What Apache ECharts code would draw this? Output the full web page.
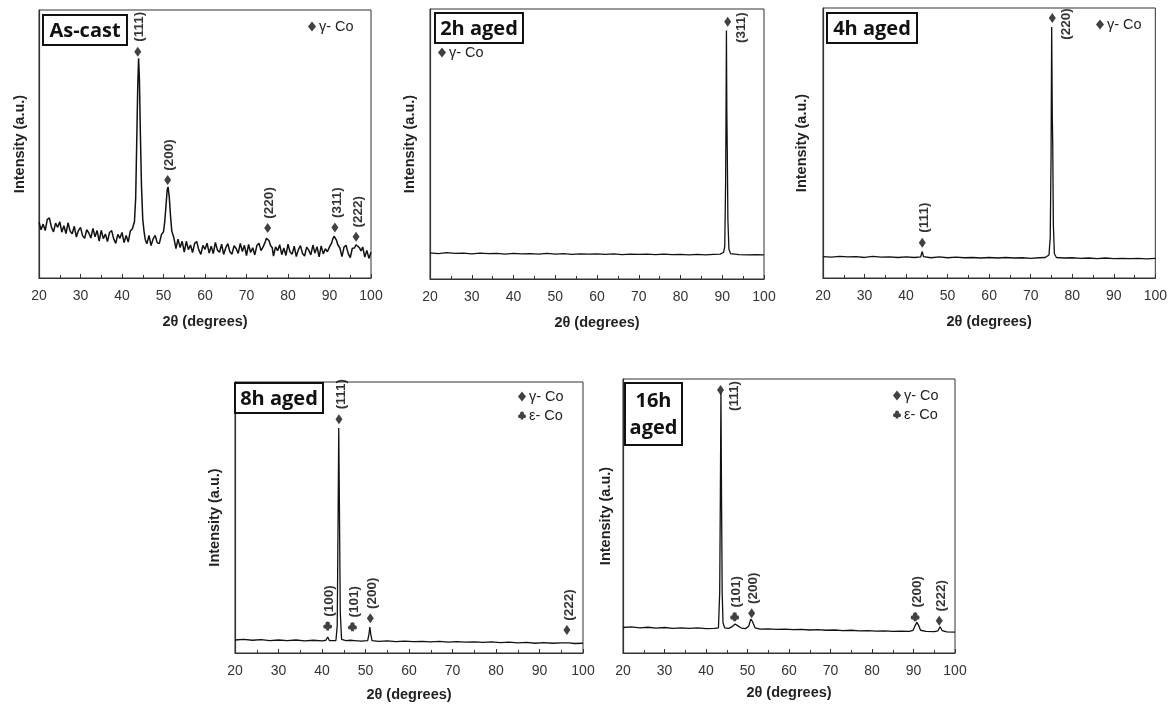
<!DOCTYPE html>
<html>
<head>
<meta charset="utf-8">
<script src="https://cdn.jsdelivr.net/npm/echarts@6/dist/echarts.min.js"></script>
<style>
  html, body { margin: 0; padding: 0; background: #fff; }
  #chart { width: 1170px; height: 705px; }
</style>
</head>
<body>
<div id="chart"></div>
<script>
// XRD patterns, 2θ in degrees vs intensity (% of plot height, arbitrary units)
const castPattern = [
  [20.0,20.8],[20.5,18.0],[21.0,20.1],[21.5,17.7],[22.0,21.9],[22.5,22.4],[23.0,19.0],[23.5,17.2],[24.0,20.5],[24.5,18.9],
  [25.0,21.0],[25.5,17.1],[26.0,19.5],[26.5,16.6],[27.0,20.6],[27.5,17.5],[28.0,16.5],[28.5,19.3],[29.0,15.3],[29.5,17.7],
  [30.0,18.9],[30.5,15.8],[31.0,14.8],[31.5,18.0],[32.0,16.8],[32.5,14.9],[33.0,18.5],[33.5,15.4],[34.0,17.7],[34.5,13.8],
  [35.0,17.8],[35.5,14.7],[36.0,16.4],[36.5,13.6],[37.0,17.0],[37.5,17.7],[38.0,14.6],[38.5,12.9],[39.0,16.3],[39.5,14.8],
  [40.0,17.0],[40.5,13.2],[41.0,15.9],[41.5,13.4],[42.0,17.5],[42.5,18.4],[43.0,21.0],[43.3,30],[43.6,55],[43.8,72],
  [44.0,82],[44.2,74],[44.4,56],[44.7,34],[45.0,22],[45.3,17.5],[45.6,14.4],[46.0,12.8],[46.5,15.9],[47.0,12.1],
  [47.5,14.6],[48.0,15.9],[48.5,13.1],[49.0,12.9],[49.5,16.2],[50.0,17.2],[50.3,21],[50.6,27],[50.9,33],[51.1,34],
  [51.4,30],[51.7,23],[52.0,17.5],[52.5,15.0],[53.0,11.0],[53.5,14.5],[54.0,11.4],[54.5,13.7],[55.0,9.7],[55.5,13.7],
  [56.0,10.6],[56.5,12.3],[57.0,9.5],[57.5,12.9],[58.0,13.6],[58.5,10.5],[59.0,8.8],[59.5,12.2],[60.0,10.7],[60.5,13.0],
  [61.0,9.3],[61.5,11.9],[62.0,9.1],[62.5,13.3],[63.0,10.4],[63.5,9.6],[64.0,12.6],[64.5,8.8],[65.0,11.3],[65.5,12.8],
  [66.0,9.8],[66.5,8.9],[67.0,12.1],[67.5,11.0],[68.0,9.2],[68.5,12.9],[69.0,9.9],[69.5,12.2],[70.0,8.4],[70.5,12.5],
  [71.0,9.5],[71.5,11.3],[72.0,8.6],[72.5,12.1],[73.0,13.0],[73.5,10.2],[74.0,11.6],[74.5,13.4],[74.8,14.8],[75.1,15.3],
  [75.4,14.0],[75.8,12.1],[76.2,11.3],[76.5,8.2],[77.0,11.6],[77.5,10.2],[78.0,12.4],[78.5,8.7],[79.0,11.2],[79.5,8.4],
  [80.0,12.6],[80.5,9.7],[81.0,8.9],[81.5,11.9],[82.0,8.0],[82.5,10.6],[83.0,12.1],[83.5,9.1],[84.0,8.2],[84.5,11.5],
  [85.0,10.4],[85.5,8.6],[86.0,12.3],[86.5,9.3],[87.0,11.7],[87.5,7.9],[88.0,12.0],[88.5,9.0],[89.0,10.9],[89.5,9.8],
  [90.0,11.6],[90.5,13.0],[90.8,14.6],[91.1,15.6],[91.4,15.3],[91.7,14.0],[92.0,12.4],[92.5,11.2],[93.0,8.0],[93.5,11.5],
  [94.0,12.2],[94.5,9.2],[95.0,7.6],[95.5,11.1],[96.0,11.2],[96.4,12.4],[96.8,12.6],[97.2,11.3],[97.6,10.1],[98.0,11.6],
  [98.5,7.8],[99.0,10.3],[99.5,7.3],[100.0,9.6]
];
const aged2Pattern = [
  [20,9.7],[22,9.4],[24,9.8],[26,9.5],[28,9.6],[30,9.3],[32,9.6],[34,9.4],[36,9.5],[38,9.2],[40,9.5],[42,9.3],
  [44,9.4],[46,9.2],[48,9.5],[50,9.2],[52,9.4],[54,9.1],[56,9.3],[58,9.2],[60,9.3],[62,9.1],[64,9.3],[66,9.0],
  [68,9.2],[70,9.1],[72,9.2],[74,9.0],[76,9.2],[78,9.0],[80,9.1],[82,8.9],[84,9.1],[86,8.9],[88,9.1],[89.5,9.2],
  [90.3,9.8],[90.6,12],[90.8,35],[90.9,60],[91.0,92],[91.1,62],[91.2,48],[91.35,22],[91.6,11],[92,9.4],
  [94,9.0],[96,8.9],[98,9.0],[100,8.9]
];
const aged4Pattern = [
  [20,7.9],[22,7.7],[24,8.0],[26,7.8],[28,7.9],[30,7.6],[32,8.0],[34,7.7],[36,7.8],[38,7.6],[40,7.8],[42,7.6],
  [43.5,7.8],[43.9,9.8],[44.2,7.9],[46,7.5],[48,7.8],[50,7.5],[52,7.7],[54,7.5],[56,7.6],[58,7.4],[60,7.6],[62,7.4],
  [64,7.6],[66,7.4],[68,7.5],[70,7.3],[72,7.5],[73.5,7.6],[74.4,8.5],[74.7,15],[74.9,45],[75.05,93],[75.2,60],
  [75.3,50],[75.45,20],[75.7,9],[76.2,7.6],[78,7.4],[80,7.5],[82,7.3],[84,7.4],[86,7.2],[88,7.4],[90,7.2],
  [92,7.3],[94,7.2],[96,7.3],[98,7.1],[100,7.3]
];
const aged8Pattern = [
  [20,4.8],[22,5.0],[24,4.7],[26,4.9],[28,4.6],[30,4.8],[32,4.6],[34,4.8],[36,4.5],[38,4.7],[40,4.5],[40.9,4.7],
  [41.3,5.9],[41.7,4.6],[43.2,4.6],[43.5,10],[43.7,50],[43.85,83],[44.0,55],[44.2,15],[44.5,5.0],[45.5,4.6],
  [46.6,4.7],[47.0,5.4],[47.4,4.6],[49,4.4],[50.5,4.6],[50.8,7],[51.0,9.6],[51.2,7],[51.5,4.6],[53,4.3],[55,4.5],
  [57,4.2],[59,4.4],[61,4.2],[63,4.3],[65,4.1],[67,4.3],[69,4.0],[71,4.2],[73,4.0],[75,4.1],[77,3.9],[79,4.1],
  [81,3.8],[83,4.0],[85,3.7],[87,3.9],[89,3.6],[91,3.8],[93,3.6],[95,3.7],[96.0,3.7],[96.4,4.3],[96.8,3.7],
  [98,3.5],[100,3.6]
];
const aged16Pattern = [
  [20,9.3],[22,9.5],[24,9.2],[26,9.4],[28,9.1],[30,9.3],[32,9.0],[34,9.2],[36,9.0],[38,9.2],[40,8.9],[42,9.0],
  [43.0,9.2],[43.3,22],[43.45,55],[43.6,95],[43.75,55],[43.9,22],[44.1,11],[44.5,9.2],[45.5,9.0],[46.3,9.6],
  [47.0,10.6],[47.6,10.0],[48.5,9.1],[49.5,8.9],[50.3,9.8],[50.8,12.4],[51.2,11.5],[51.8,9.2],[53,8.7],[55,8.8],
  [57,8.6],[59,8.7],[61,8.5],[63,8.6],[65,8.4],[67,8.5],[69,8.3],[71,8.4],[73,8.2],[75,8.3],[77,8.1],[79,8.2],
  [81,8.0],[83,8.1],[85,7.9],[87,8.0],[89,7.9],[89.9,8.3],[90.4,10.0],[90.8,11.2],[91.2,10.2],[91.7,8.3],[93,7.9],
  [95,7.8],[95.9,8.1],[96.4,9.6],[96.9,8.2],[98,7.7],[100,7.6]
];

// peak markers: [2θ, marker height, reflection, phase]
const castPeaks = [[43.8,84.4,'(111)','γ'],[51.0,36.6,'(200)','γ'],[75.1,18.7,'(220)','γ'],[91.3,18.8,'(311)','γ'],[96.4,15.4,'(222)','γ']];
const aged2Peaks = [[91.3,95.3,'(311)','γ']];
const aged4Peaks = [[43.9,13.1,'(111)','γ'],[75.2,96.3,'(220)','γ']];
const aged8Peaks = [[41.3,10.0,'(100)','ε'],[43.9,86.3,'(111)','γ'],[47.0,9.7,'(101)','ε'],[51.1,12.8,'(200)','γ'],[96.3,8.5,'(222)','γ']];
const aged16Peaks = [[43.5,96.0,'(111)','γ'],[46.9,13.2,'(101)','ε'],[51.0,14.5,'(200)','γ'],[90.4,13.2,'(200)','ε'],[96.2,11.8,'(222)','γ']];

const panelTitles = ['As-cast', '2h aged', '4h aged', '8h aged', '16h\naged'];
const xTicks = [20, 30, 40, 50, 60, 70, 80, 90, 100];
const phaseNames = { 'γ': 'γ- Co', 'ε': 'ε- Co' };

const FONT = '"Liberation Sans", Arial, sans-serif';
const CLUB = 'path://M6.5,6a5.5,5.5 0 1,0 11,0a5.5,5.5 0 1,0 -11,0Z M1,13.5a5.5,5.5 0 1,0 11,0a5.5,5.5 0 1,0 -11,0Z M12,13.5a5.5,5.5 0 1,0 11,0a5.5,5.5 0 1,0 -11,0Z M11,8L8,23L16,23L13,8Z';

const panels = [
  { pattern: castPattern,  peaks: castPeaks,  grid: { left: 39,  top: 10,  width: 332, height: 268 }, box: [43, 15, 84, 30],  legend: [308, 19],  yGap: 12, xGap: 36, lw: 1.5 },
  { pattern: aged2Pattern, peaks: aged2Peaks, grid: { left: 430, top: 9,   width: 334, height: 270 }, box: [435, 13, 88, 30], legend: [438, 45],  yGap: 13, xGap: 36, lw: 1.3 },
  { pattern: aged4Pattern, peaks: aged4Peaks, grid: { left: 823, top: 8,   width: 335, height: 270 }, box: [827, 13, 90, 30], legend: [1096, 17], yGap: 14, xGap: 36, lw: 1.3 },
  { pattern: aged8Pattern, peaks: aged8Peaks, grid: { left: 235, top: 382, width: 348, height: 271 }, box: [235, 383, 88, 30], legend: [518, 389], yGap: 13, xGap: 34, lw: 1.3 },
  { pattern: aged16Pattern, peaks: aged16Peaks, grid: { left: 623, top: 379, width: 332, height: 274 }, box: [625, 383, 57, 62], legend: [893, 388], yGap: 10, xGap: 32, lw: 1.3 }
];

function peakSeries(phase, list, idx) {
  const size = phase === 'γ' ? [7, 10] : [9, 9];
  return {
    name: phaseNames[phase],
    type: 'scatter',
    xAxisIndex: idx,
    yAxisIndex: idx,
    symbol: phase === 'γ' ? 'diamond' : CLUB,
    symbolSize: size,
    silent: true,
    itemStyle: { color: '#111' },
    z: 5,
    data: list.filter(p => p[3] === phase).map(p => {
      const right = p[1] > 90;
      return {
        value: [p[0], p[1]],
        label: {
          show: true,
          formatter: p[2],
          rotate: 90,
          align: 'center',
          verticalAlign: 'middle',
          position: right ? [size[0] / 2 + 14, size[1] / 2 + 6] : [size[0] / 2 + 2, size[1] / 2 - 25],
          fontFamily: FONT,
          fontWeight: 'bold',
          fontSize: 13.5,
          color: '#000'
        }
      };
    })
  };
}

const option = {
  backgroundColor: '#fff',
  animation: false,
  grid: panels.map(p => Object.assign({ show: true, borderColor: '#333', borderWidth: 1 }, p.grid)),
  xAxis: panels.map((p, i) => ({
    type: 'value', gridIndex: i, min: 20, max: 100, interval: 10,
    name: '2θ (degrees)', nameLocation: 'middle', nameGap: p.xGap,
    nameTextStyle: { fontFamily: FONT, fontWeight: 'bold', fontSize: 14.5, color: '#222' },
    axisLine: { lineStyle: { color: '#333', width: 1.2 } },
    axisTick: { inside: true, length: 4, lineStyle: { color: '#333' } },
    minorTick: { show: true, splitNumber: 2, length: 3, lineStyle: { color: '#333' } },
    axisLabel: { fontFamily: FONT, fontSize: 14, color: '#333', margin: 11, formatter: v => xTicks.includes(v) ? String(v) : '' },
    splitLine: { show: false }
  })),
  yAxis: panels.map((p, i) => ({
    type: 'value', gridIndex: i, min: 0, max: 100,
    name: 'Intensity (a.u.)', nameLocation: 'middle', nameGap: p.yGap,
    nameTextStyle: { fontFamily: FONT, fontWeight: 'bold', fontSize: 14.5, color: '#222' },
    axisLine: { show: true, lineStyle: { color: '#333', width: 1.2 } },
    axisTick: { show: false },
    axisLabel: { show: false },
    splitLine: { show: false }
  })),
  legend: panels.map(p => {
    const phases = ['γ', 'ε'].filter(ph => p.peaks.some(k => k[3] === ph));
    return {
      left: p.legend[0], top: p.legend[1], orient: 'vertical', padding: 0, itemGap: 4,
      itemWidth: 8, itemHeight: 10, selectedMode: false,
      data: phases.map(ph => ({ name: phaseNames[ph], icon: ph === 'γ' ? 'diamond' : CLUB })),
      textStyle: { fontFamily: FONT, fontSize: 14.5, color: '#222', padding: [0, 0, 0, -2] }
    };
  }),
  graphic: panels.map((p, i) => ({
    type: 'group',
    children: [
      { type: 'rect', shape: { x: p.box[0], y: p.box[1], width: p.box[2], height: p.box[3] },
        style: { fill: '#fff', stroke: '#111', lineWidth: 2 }, z: 10 },
      { type: 'text', x: p.box[0] + p.box[2] / 2, y: p.box[1] + p.box[3] / 2 + 1, z: 11,
        style: { text: panelTitles[i], align: 'center', verticalAlign: 'middle',
          font: 'bold 20px "Open Sans", "Noto Sans", sans-serif', lineHeight: 27, fill: '#111' } }
    ]
  })),
  series: panels.flatMap((p, i) => {
    const list = [{
      type: 'line', xAxisIndex: i, yAxisIndex: i, data: p.pattern, showSymbol: false, silent: true,
      lineStyle: { color: '#111', width: p.lw }
    }];
    ['γ', 'ε'].forEach(ph => {
      if (p.peaks.some(k => k[3] === ph)) list.push(peakSeries(ph, p.peaks, i));
    });
    return list;
  })
};

echarts.init(document.getElementById('chart')).setOption(option);
</script>
</body>
</html>
